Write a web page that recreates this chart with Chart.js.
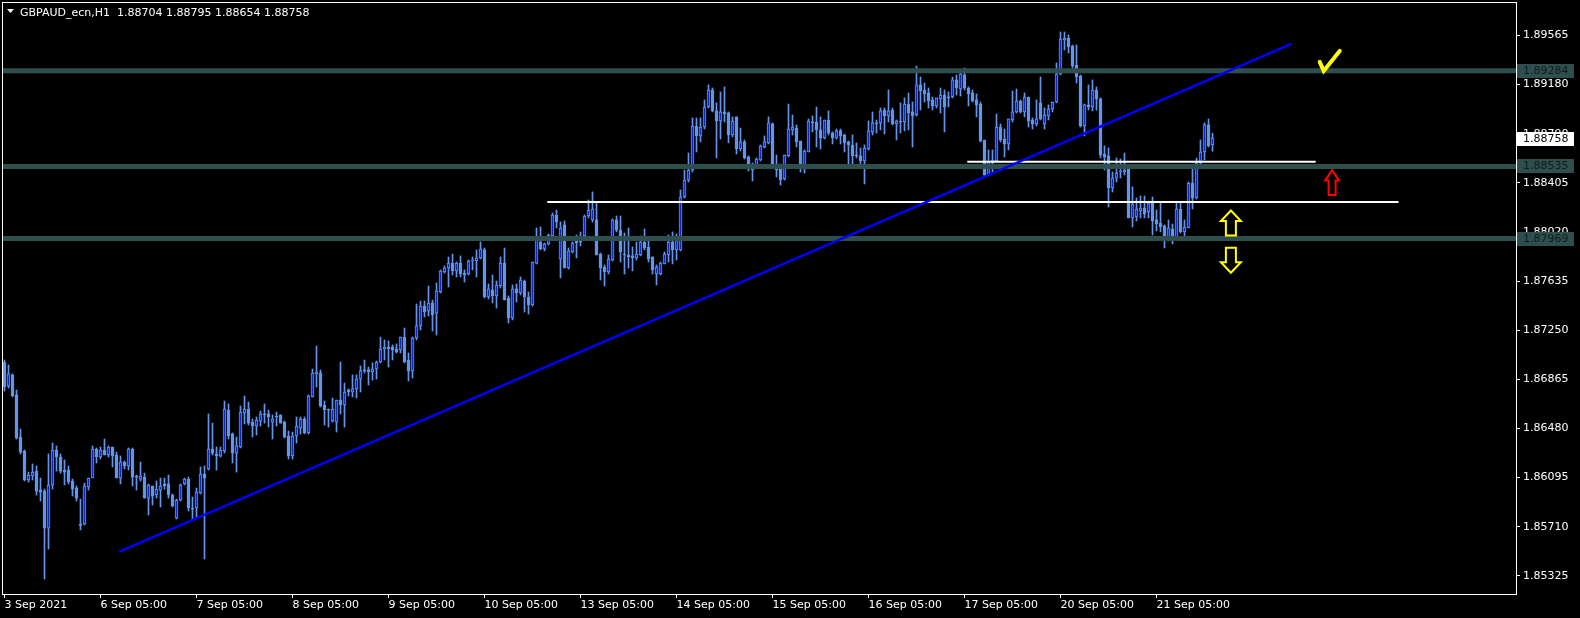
<!DOCTYPE html>
<html>
<head>
<meta charset="utf-8">
<title>GBPAUD_ecn,H1</title>
<script src="https://cdn.jsdelivr.net/npm/chart.js@4.4.1/dist/chart.umd.min.js"></script>
<style>
  html, body { margin: 0; padding: 0; background: #000; }
  #wrap { width: 1580px; height: 618px; }
</style>
</head>
<body>
<div id="wrap"><canvas id="chart" width="1580" height="618"></canvas></div>
<script>
// --- Data (H1 bars, 3 Sep 05:00 onwards) ---
const symbolTitle = 'GBPAUD_ecn,H1  1.88704 1.88795 1.88654 1.88758';

const opens = [
  1.87001, 1.86813, 1.86900, 1.86743, 1.86413, 1.86303, 1.86076, 1.86107, 1.86146, 1.85997,
  1.85989, 1.85699, 1.86037, 1.86311, 1.86256, 1.86154, 1.86154, 1.86068, 1.86013, 1.85723,
  1.85731, 1.86021, 1.86091, 1.86319, 1.86256, 1.86311, 1.86272, 1.86335, 1.86272, 1.86091,
  1.86217, 1.86186, 1.86319, 1.86107, 1.86083, 1.86099, 1.85934, 1.86029, 1.85958, 1.85997,
  1.86045, 1.86045, 1.85958, 1.85778, 1.85919, 1.86045, 1.86083, 1.85856, 1.85856, 1.85973,
  1.86123, 1.86162, 1.86319, 1.86280, 1.86264, 1.86303, 1.86625, 1.86437, 1.86287, 1.86335,
  1.86601, 1.86632, 1.86530, 1.86499, 1.86538, 1.86594, 1.86594, 1.86530, 1.86578, 1.86586,
  1.86530, 1.86421, 1.86264, 1.86421, 1.86483, 1.86554, 1.86445, 1.86727, 1.86908, 1.86915,
  1.86664, 1.86632, 1.86538, 1.86530, 1.86703, 1.86664, 1.86782, 1.86766, 1.86790, 1.86868,
  1.86939, 1.86939, 1.86923, 1.86946, 1.87001, 1.87103, 1.87119, 1.87119, 1.87103, 1.87095,
  1.87197, 1.87017, 1.86931, 1.87189, 1.87284, 1.87440, 1.87401, 1.87464, 1.87385, 1.87550,
  1.87707, 1.87738, 1.87777, 1.87715, 1.87777, 1.87699, 1.87691, 1.87793, 1.87793, 1.87817,
  1.87880, 1.87511, 1.87566, 1.87519, 1.87597, 1.87777, 1.87503, 1.87346, 1.87574, 1.87542,
  1.87636, 1.87511, 1.87448, 1.87777, 1.87942, 1.87887, 1.87927, 1.87989, 1.88154, 1.87809,
  1.88076, 1.87738, 1.87864, 1.87989, 1.87989, 1.87989, 1.88146, 1.88115, 1.88115, 1.87848,
  1.87746, 1.87707, 1.87801, 1.88115, 1.88036, 1.87848, 1.87840, 1.87833, 1.87817, 1.87840,
  1.87942, 1.87903, 1.87825, 1.87691, 1.87691, 1.87770, 1.87840, 1.87942, 1.87880, 1.87880,
  1.88295, 1.88428, 1.88507, 1.88852, 1.88774, 1.88844, 1.89001, 1.89134, 1.88970, 1.88891,
  1.88962, 1.88954, 1.88781, 1.88923, 1.88671, 1.88727, 1.88609, 1.88507, 1.88546, 1.88585,
  1.88687, 1.88719, 1.88868, 1.88546, 1.88515, 1.88436, 1.88617, 1.88821, 1.88836, 1.88734,
  1.88546, 1.88648, 1.88883, 1.88883, 1.88821, 1.88758, 1.88899, 1.88797, 1.88758, 1.88813,
  1.88781, 1.88727, 1.88703, 1.88624, 1.88617, 1.88578, 1.88671, 1.88805, 1.88876, 1.88876,
  1.88977, 1.88930, 1.88977, 1.88868, 1.88891, 1.88883, 1.89024, 1.88962, 1.88938, 1.89174,
  1.89134, 1.89111, 1.89056, 1.89009, 1.89064, 1.89095, 1.89079, 1.89079, 1.89213, 1.89142,
  1.89252, 1.89150, 1.89111, 1.89056, 1.89024, 1.88742, 1.88468, 1.88562, 1.88578, 1.88844,
  1.88750, 1.88711, 1.88899, 1.88962, 1.89048, 1.88962, 1.89079, 1.88899, 1.88868, 1.89033,
  1.88868, 1.88930, 1.88985, 1.89040, 1.89260, 1.89526, 1.89542, 1.89479, 1.89330, 1.89244,
  1.88852, 1.89017, 1.89001, 1.89134, 1.89064, 1.88632, 1.88617, 1.88366, 1.88444, 1.88491,
  1.88491, 1.88530, 1.88131, 1.88138, 1.88185, 1.88209, 1.88178, 1.88248, 1.88115, 1.88091,
  1.88068, 1.87974, 1.88044, 1.87974, 1.88201, 1.88021, 1.88052, 1.88405, 1.88287, 1.88562,
  1.88648, 1.88860, 1.88704
];

const highs = [
  1.87017, 1.86978, 1.86908, 1.86782, 1.86475, 1.86311, 1.86138, 1.86202, 1.86186, 1.86091,
  1.86005, 1.86280, 1.86366, 1.86343, 1.86280, 1.86233, 1.86186, 1.86083, 1.86029, 1.85926,
  1.86052, 1.86091, 1.86343, 1.86327, 1.86335, 1.86397, 1.86343, 1.86335, 1.86295, 1.86264,
  1.86225, 1.86327, 1.86327, 1.86115, 1.86217, 1.86130, 1.86045, 1.86029, 1.86068, 1.86091,
  1.86091, 1.86115, 1.85966, 1.85926, 1.86045, 1.86091, 1.86099, 1.85942, 1.86013, 1.86178,
  1.86186, 1.86594, 1.86522, 1.86335, 1.86335, 1.86695, 1.86672, 1.86445, 1.86413, 1.86656,
  1.86735, 1.86687, 1.86554, 1.86570, 1.86617, 1.86672, 1.86625, 1.86586, 1.86609, 1.86586,
  1.86538, 1.86460, 1.86452, 1.86570, 1.86570, 1.86570, 1.86743, 1.86946, 1.87127, 1.86939,
  1.86695, 1.86632, 1.86719, 1.86703, 1.87001, 1.86836, 1.86790, 1.86900, 1.86900, 1.86970,
  1.87017, 1.86962, 1.86994, 1.87009, 1.87197, 1.87174, 1.87166, 1.87135, 1.87143, 1.87197,
  1.87268, 1.87072, 1.87197, 1.87456, 1.87479, 1.87479, 1.87597, 1.87487, 1.87620, 1.87723,
  1.87754, 1.87825, 1.87848, 1.87785, 1.87833, 1.87723, 1.87801, 1.87825, 1.87880, 1.87942,
  1.87895, 1.87613, 1.87683, 1.87636, 1.87825, 1.87895, 1.87519, 1.87605, 1.87613, 1.87668,
  1.87644, 1.87550, 1.87785, 1.88052, 1.88060, 1.87934, 1.88005, 1.88170, 1.88193, 1.88099,
  1.88107, 1.87895, 1.87942, 1.87997, 1.88021, 1.88154, 1.88272, 1.88335, 1.88256, 1.87856,
  1.87762, 1.87840, 1.88123, 1.88146, 1.88146, 1.88013, 1.88052, 1.87903, 1.87942, 1.87989,
  1.88044, 1.87974, 1.87825, 1.87762, 1.87785, 1.87864, 1.87997, 1.88021, 1.88005, 1.88350,
  1.88507, 1.88640, 1.88915, 1.88915, 1.88915, 1.89056, 1.89174, 1.89150, 1.89033, 1.89119,
  1.89158, 1.88962, 1.88923, 1.88923, 1.88836, 1.88742, 1.88617, 1.88562, 1.88601, 1.88703,
  1.88774, 1.88923, 1.88876, 1.88624, 1.88554, 1.88624, 1.89024, 1.88938, 1.88860, 1.88734,
  1.88664, 1.88907, 1.88930, 1.89001, 1.88923, 1.88899, 1.88970, 1.88805, 1.88828, 1.88828,
  1.88789, 1.88734, 1.88781, 1.88719, 1.88679, 1.88703, 1.88891, 1.88962, 1.88899, 1.88993,
  1.88993, 1.89134, 1.88993, 1.88899, 1.89033, 1.89072, 1.89111, 1.89040, 1.89322, 1.89236,
  1.89189, 1.89150, 1.89079, 1.89072, 1.89150, 1.89134, 1.89119, 1.89236, 1.89252, 1.89276,
  1.89307, 1.89158, 1.89134, 1.89103, 1.89040, 1.88742, 1.88664, 1.88664, 1.88946, 1.88868,
  1.88828, 1.88907, 1.89126, 1.89142, 1.89056, 1.89111, 1.89079, 1.88915, 1.89056, 1.89236,
  1.88993, 1.89017, 1.89040, 1.89346, 1.89589, 1.89589, 1.89566, 1.89487, 1.89487, 1.89252,
  1.89024, 1.89174, 1.89213, 1.89158, 1.89072, 1.88695, 1.88679, 1.88491, 1.88601, 1.88593,
  1.88640, 1.88538, 1.88374, 1.88287, 1.88303, 1.88303, 1.88256, 1.88295, 1.88193, 1.88248,
  1.88076, 1.88115, 1.88083, 1.88248, 1.88248, 1.88115, 1.88413, 1.88523, 1.88601, 1.88742,
  1.88876, 1.88907, 1.88795
];

const lows = [
  1.86774, 1.86797, 1.86727, 1.86397, 1.86280, 1.86068, 1.86060, 1.86076, 1.85958, 1.85911,
  1.85299, 1.85534, 1.86005, 1.86146, 1.86130, 1.86037, 1.86045, 1.85950, 1.85911, 1.85684,
  1.85723, 1.85997, 1.86154, 1.86209, 1.86240, 1.86272, 1.86256, 1.86178, 1.86115, 1.86045,
  1.86162, 1.86154, 1.86029, 1.85997, 1.86068, 1.85934, 1.85802, 1.85880, 1.85934, 1.85864,
  1.86005, 1.85934, 1.85864, 1.85770, 1.85911, 1.86037, 1.85833, 1.85762, 1.85786, 1.85966,
  1.85456, 1.86154, 1.86272, 1.86154, 1.86256, 1.86287, 1.86397, 1.86209, 1.86138, 1.86327,
  1.86515, 1.86507, 1.86413, 1.86429, 1.86499, 1.86522, 1.86491, 1.86397, 1.86499, 1.86522,
  1.86405, 1.86240, 1.86240, 1.86366, 1.86437, 1.86437, 1.86437, 1.86727, 1.86805, 1.86648,
  1.86507, 1.86491, 1.86530, 1.86452, 1.86594, 1.86491, 1.86735, 1.86727, 1.86719, 1.86766,
  1.86915, 1.86821, 1.86860, 1.86868, 1.86994, 1.87017, 1.86962, 1.87017, 1.87072, 1.87072,
  1.86994, 1.86852, 1.86876, 1.87174, 1.87252, 1.87354, 1.87362, 1.87244, 1.87213, 1.87542,
  1.87699, 1.87589, 1.87683, 1.87668, 1.87668, 1.87628, 1.87683, 1.87723, 1.87668, 1.87809,
  1.87503, 1.87495, 1.87464, 1.87424, 1.87581, 1.87487, 1.87307, 1.87331, 1.87472, 1.87527,
  1.87393, 1.87377, 1.87440, 1.87770, 1.87880, 1.87872, 1.87919, 1.87981, 1.88052, 1.87660,
  1.87738, 1.87730, 1.87856, 1.87817, 1.87911, 1.87974, 1.88131, 1.88099, 1.87840, 1.87644,
  1.87597, 1.87691, 1.87793, 1.88021, 1.87785, 1.87691, 1.87738, 1.87715, 1.87801, 1.87833,
  1.87880, 1.87785, 1.87691, 1.87605, 1.87683, 1.87770, 1.87785, 1.87770, 1.87801, 1.87872,
  1.88287, 1.88413, 1.88491, 1.88648, 1.88727, 1.88829, 1.88993, 1.88962, 1.88601, 1.88750,
  1.88883, 1.88719, 1.88766, 1.88632, 1.88656, 1.88593, 1.88499, 1.88421, 1.88530, 1.88578,
  1.88679, 1.88711, 1.88530, 1.88452, 1.88389, 1.88428, 1.88609, 1.88781, 1.88687, 1.88491,
  1.88483, 1.88648, 1.88805, 1.88687, 1.88671, 1.88750, 1.88781, 1.88711, 1.88750, 1.88711,
  1.88648, 1.88530, 1.88546, 1.88601, 1.88546, 1.88397, 1.88664, 1.88781, 1.88797, 1.88821,
  1.88789, 1.88883, 1.88860, 1.88742, 1.88797, 1.88813, 1.88821, 1.88687, 1.88930, 1.88977,
  1.89040, 1.88993, 1.88977, 1.88993, 1.88954, 1.88805, 1.89001, 1.89072, 1.89095, 1.89087,
  1.89134, 1.89009, 1.89040, 1.88923, 1.88727, 1.88460, 1.88460, 1.88491, 1.88570, 1.88727,
  1.88609, 1.88664, 1.88883, 1.88954, 1.88954, 1.88923, 1.88844, 1.88828, 1.88852, 1.88899,
  1.88828, 1.88899, 1.88962, 1.89033, 1.89252, 1.89448, 1.89424, 1.89307, 1.89189, 1.88844,
  1.88774, 1.88977, 1.88970, 1.88977, 1.88601, 1.88507, 1.88217, 1.88334, 1.88413, 1.88444,
  1.88468, 1.88131, 1.88060, 1.88107, 1.88131, 1.88131, 1.88131, 1.87997, 1.88029, 1.88021,
  1.87895, 1.87950, 1.87927, 1.87966, 1.88013, 1.87974, 1.88052, 1.88201, 1.88280, 1.88546,
  1.88585, 1.88687, 1.88654
];

const closes = [
  1.86805, 1.86908, 1.86735, 1.86405, 1.86295, 1.86076, 1.86115, 1.86138, 1.85989, 1.85981,
  1.85699, 1.86037, 1.86311, 1.86256, 1.86146, 1.86138, 1.86060, 1.86005, 1.85934, 1.85720,
  1.86029, 1.86091, 1.86319, 1.86256, 1.86311, 1.86272, 1.86335, 1.86264, 1.86091, 1.86217,
  1.86186, 1.86319, 1.86099, 1.86099, 1.86107, 1.85934, 1.86037, 1.85950, 1.86005, 1.86029,
  1.86029, 1.85958, 1.85872, 1.85919, 1.86037, 1.86083, 1.85856, 1.85848, 1.85981, 1.86123,
  1.86091, 1.86319, 1.86287, 1.86264, 1.86311, 1.86632, 1.86421, 1.86287, 1.86343, 1.86609,
  1.86632, 1.86522, 1.86499, 1.86546, 1.86594, 1.86586, 1.86570, 1.86554, 1.86570, 1.86522,
  1.86413, 1.86264, 1.86421, 1.86499, 1.86554, 1.86445, 1.86735, 1.86915, 1.86923, 1.86656,
  1.86625, 1.86625, 1.86632, 1.86703, 1.86664, 1.86766, 1.86766, 1.86790, 1.86868, 1.86931,
  1.86931, 1.86923, 1.86946, 1.87001, 1.87103, 1.87119, 1.87103, 1.87095, 1.87080, 1.87197,
  1.87001, 1.86931, 1.87189, 1.87284, 1.87440, 1.87393, 1.87464, 1.87370, 1.87558, 1.87715,
  1.87738, 1.87777, 1.87715, 1.87777, 1.87691, 1.87683, 1.87793, 1.87801, 1.87817, 1.87887,
  1.87511, 1.87574, 1.87519, 1.87605, 1.87777, 1.87487, 1.87346, 1.87574, 1.87542, 1.87644,
  1.87511, 1.87448, 1.87785, 1.87974, 1.87887, 1.87927, 1.87997, 1.88154, 1.88099, 1.88052,
  1.87738, 1.87872, 1.87934, 1.87934, 1.87942, 1.88146, 1.88193, 1.88201, 1.87840, 1.87738,
  1.87707, 1.87809, 1.88115, 1.88036, 1.87864, 1.87840, 1.87825, 1.87817, 1.87848, 1.87942,
  1.87895, 1.87809, 1.87723, 1.87746, 1.87777, 1.87848, 1.87942, 1.87880, 1.87974, 1.88295,
  1.88428, 1.88507, 1.88852, 1.88774, 1.88844, 1.89001, 1.89134, 1.88970, 1.88891, 1.88962,
  1.88946, 1.88781, 1.88891, 1.88671, 1.88727, 1.88601, 1.88546, 1.88554, 1.88593, 1.88695,
  1.88727, 1.88876, 1.88546, 1.88507, 1.88428, 1.88624, 1.88828, 1.88844, 1.88727, 1.88546,
  1.88656, 1.88891, 1.88876, 1.88821, 1.88758, 1.88899, 1.88797, 1.88758, 1.88813, 1.88774,
  1.88719, 1.88703, 1.88617, 1.88617, 1.88578, 1.88679, 1.88813, 1.88876, 1.88868, 1.88970,
  1.88930, 1.88970, 1.88868, 1.88891, 1.88883, 1.89024, 1.88954, 1.88930, 1.89174, 1.89127,
  1.89103, 1.89048, 1.89009, 1.89072, 1.89095, 1.89001, 1.89072, 1.89213, 1.89150, 1.89260,
  1.89150, 1.89103, 1.89048, 1.89017, 1.88734, 1.88468, 1.88570, 1.88585, 1.88844, 1.88742,
  1.88711, 1.88907, 1.88962, 1.89048, 1.88962, 1.89079, 1.88891, 1.88868, 1.88907, 1.88907,
  1.88938, 1.88985, 1.89040, 1.89260, 1.89534, 1.89542, 1.89471, 1.89322, 1.89236, 1.88852,
  1.89017, 1.89001, 1.89134, 1.89064, 1.88624, 1.88609, 1.88366, 1.88444, 1.88483, 1.88497,
  1.88507, 1.88131, 1.88240, 1.88201, 1.88209, 1.88162, 1.88248, 1.88107, 1.88083, 1.88060,
  1.87974, 1.88052, 1.87974, 1.88201, 1.88021, 1.88060, 1.88405, 1.88287, 1.88562, 1.88648,
  1.88860, 1.88695, 1.88758
];

// axis labels
const xTickBars = [0, 24, 48, 72, 96, 120, 144, 168, 192, 216, 240, 264, 288];
const xTickLabels = ['3 Sep 2021', '6 Sep 05:00', '7 Sep 05:00', '8 Sep 05:00', '9 Sep 05:00',
  '10 Sep 05:00', '13 Sep 05:00', '14 Sep 05:00', '15 Sep 05:00', '16 Sep 05:00',
  '17 Sep 05:00', '20 Sep 05:00', '21 Sep 05:00'];
const yTickLabels = ['1.89565', '1.89180', '1.88790', '1.88405', '1.88020', '1.87635',
  '1.87250', '1.86865', '1.86480', '1.86095', '1.85710', '1.85325'];

// drawn objects
const levelPrices = [1.89284, 1.88535, 1.87969];
const lastPrice = 1.88758;
const trendBars = [28.73, 321.7];
const trendPrices = [1.85514, 1.89495];
const whiteLineBars = [[240.7, 327.8], [135.7, 348.5]];
const whiteLinePrices = [1.88572, 1.88256];
const markBars = [331.3, 331.9, 306.6, 306.6];
const markPrices = [1.89362, 1.88408, 1.88091, 1.87799];
const markKinds = ['check', 'up', 'up', 'down'];
const markColors = ['#FFFF00', '#FF0000', '#FFFF00', '#FFFF00'];

// --- Look ---
const FONT = '"DejaVu Sans", sans-serif';
const CANDLE_BLUE = '#6495ED';
const BULL_FILL = '#0a28c8';
const LEVEL_COLOR = '#2F4F4F';
const X_MIN = -0.625;
const X_MAX = 377.875;

Chart.defaults.font.family = FONT;
Chart.defaults.font.size = 11;

const barIndex = opens.map((_, i) => i);
const wickData = barIndex.map(i => ({ x: i, y: [lows[i], highs[i]] }));
const bodyData = barIndex.map(i => ({ x: i, y: [opens[i], closes[i]] }));
const bodyFill = barIndex.map(i => closes[i] > opens[i] ? BULL_FILL : CANDLE_BLUE);

const flatLine = (x0, x1, y, color, width, order) => ({
    type: 'line',
    data: [{ x: x0, y }, { x: x1, y }],
    borderColor: color,
    borderWidth: width,
    pointRadius: 0,
    order
});

// keep the plot box exactly where the terminal has it
const noLabelPadding = axis => {
    axis.paddingTop = 0;
    axis.paddingBottom = 0;
    axis.paddingLeft = 0;
    axis.paddingRight = 0;
};

// --- Plugins ---
const blackBackground = {
    id: 'blackBackground',
    beforeDraw(chart) {
        const { ctx, width, height } = chart;
        ctx.save();
        ctx.fillStyle = '#000';
        ctx.fillRect(0, 0, width, height);
        ctx.restore();
    }
};

function arrowPath(ctx, cx, cy, w, h, dir) {
    const hh = h * 0.42, sw = w * 0.5;
    const s = dir === 'up' ? 1 : -1;
    const tip = cy - s * h / 2, neck = tip + s * hh, tail = cy + s * h / 2;
    ctx.beginPath();
    ctx.moveTo(cx, tip);
    ctx.lineTo(cx + w / 2, neck);
    ctx.lineTo(cx + sw / 2, neck);
    ctx.lineTo(cx + sw / 2, tail);
    ctx.lineTo(cx - sw / 2, tail);
    ctx.lineTo(cx - sw / 2, neck);
    ctx.lineTo(cx - w / 2, neck);
    ctx.closePath();
}

const terminalOverlay = {
    id: 'terminalOverlay',
    afterDraw(chart) {
        const { ctx, chartArea: ca } = chart;
        const xs = chart.scales.x, ys = chart.scales.y;
        ctx.save();

        // frame
        ctx.strokeStyle = '#fff';
        ctx.lineWidth = 1;
        ctx.strokeRect(ca.left + 0.5, ca.top + 0.5, ca.right - ca.left, ca.bottom - ca.top);

        // price boxes on the axis
        ctx.font = '11px ' + FONT;
        ctx.textBaseline = 'middle';
        ctx.textAlign = 'left';
        levelPrices.forEach(p => {
            const y = Math.round(ys.getPixelForValue(p));
            ctx.fillStyle = LEVEL_COLOR;
            ctx.fillRect(ca.right + 1, y - 7, 57, 14);
            ctx.fillStyle = '#0e1c1c';
            ctx.fillText(p.toFixed(5), ca.right + 7, y + 0.5);
        });
        const ly = Math.round(ys.getPixelForValue(lastPrice));
        ctx.fillStyle = '#fff';
        ctx.fillRect(ca.right + 1, ly - 6, 57, 14);
        ctx.fillStyle = '#000';
        ctx.fillText(lastPrice.toFixed(5), ca.right + 7, ly + 1.5);

        // arrows and check mark
        markBars.forEach((b, i) => {
            const cx = xs.getPixelForValue(b);
            const cy = ys.getPixelForValue(markPrices[i]);
            ctx.strokeStyle = markColors[i];
            ctx.lineJoin = 'miter';
            if (markKinds[i] === 'check') {
                ctx.lineWidth = 4;
                ctx.lineCap = 'round';
                ctx.beginPath();
                ctx.moveTo(cx - 10, cy + 1);
                ctx.lineTo(cx - 6, cy + 10);
                ctx.lineTo(cx + 10, cy - 10);
                ctx.stroke();
            } else {
                const big = markColors[i] === '#FFFF00';
                ctx.lineWidth = 2;
                arrowPath(ctx, cx, cy, big ? 20 : 14, 25, markKinds[i]);
                ctx.stroke();
            }
        });

        // title
        ctx.fillStyle = '#fff';
        ctx.beginPath();
        ctx.moveTo(7, 9);
        ctx.lineTo(14, 9);
        ctx.lineTo(10.5, 13);
        ctx.closePath();
        ctx.fill();
        ctx.textBaseline = 'middle';
        ctx.fillText(symbolTitle, 20, 13);

        ctx.restore();
    }
};

// --- Chart ---
new Chart(document.getElementById('chart'), {
    type: 'bar',
    data: {
        datasets: [
            {
                data: wickData,
                backgroundColor: CANDLE_BLUE,
                barThickness: 1,
                grouped: false,
                order: 4
            },
            {
                data: bodyData,
                backgroundColor: bodyFill,
                borderColor: CANDLE_BLUE,
                borderWidth: 1,
                borderSkipped: false,
                barThickness: 3,
                minBarLength: 1,
                grouped: false,
                order: 3
            },
            ...levelPrices.map(p => flatLine(X_MIN, X_MAX, p, LEVEL_COLOR, 5, 2)),
            ...whiteLinePrices.map((p, i) => flatLine(whiteLineBars[i][0], whiteLineBars[i][1], p, '#ffffff', 2, 1)),
            {
                type: 'line',
                data: trendBars.map((b, i) => ({ x: b, y: trendPrices[i] })),
                borderColor: '#0000FF',
                borderWidth: 2.5,
                pointRadius: 0,
                order: 0
            }
        ]
    },
    options: {
        responsive: false,
        animation: false,
        events: [],
        devicePixelRatio: 1,
        layout: { padding: { left: 2, top: 2, right: 0, bottom: 0 } },
        plugins: { legend: { display: false }, tooltip: { enabled: false } },
        scales: {
            x: {
                type: 'linear',
                offset: false,
                min: X_MIN,
                max: X_MAX,
                afterBuildTicks: axis => { axis.ticks = xTickBars.map(v => ({ value: v })); },
                afterFit: axis => { axis.height = 24; noLabelPadding(axis); },
                grid: { drawOnChartArea: false, offset: false, tickLength: 4, tickColor: '#fff' },
                border: { display: false },
                ticks: {
                    color: '#fff',
                    align: 'start',
                    autoSkip: false,
                    maxRotation: 0,
                    minRotation: 0,
                    padding: 1,
                    callback: (v, i) => xTickLabels[i]
                }
            },
            y: {
                type: 'linear',
                position: 'right',
                min: 1.85182,
                max: 1.89824,
                afterBuildTicks: axis => { axis.ticks = yTickLabels.map(s => ({ value: parseFloat(s) })); },
                afterFit: axis => { axis.width = 64; noLabelPadding(axis); },
                grid: { drawOnChartArea: false, tickLength: 4, tickColor: '#fff' },
                border: { display: false },
                ticks: {
                    color: '#fff',
                    padding: 3,
                    callback: (v, i) => yTickLabels[i]
                }
            }
        }
    },
    plugins: [blackBackground, terminalOverlay]
});
</script>
</body>
</html>
